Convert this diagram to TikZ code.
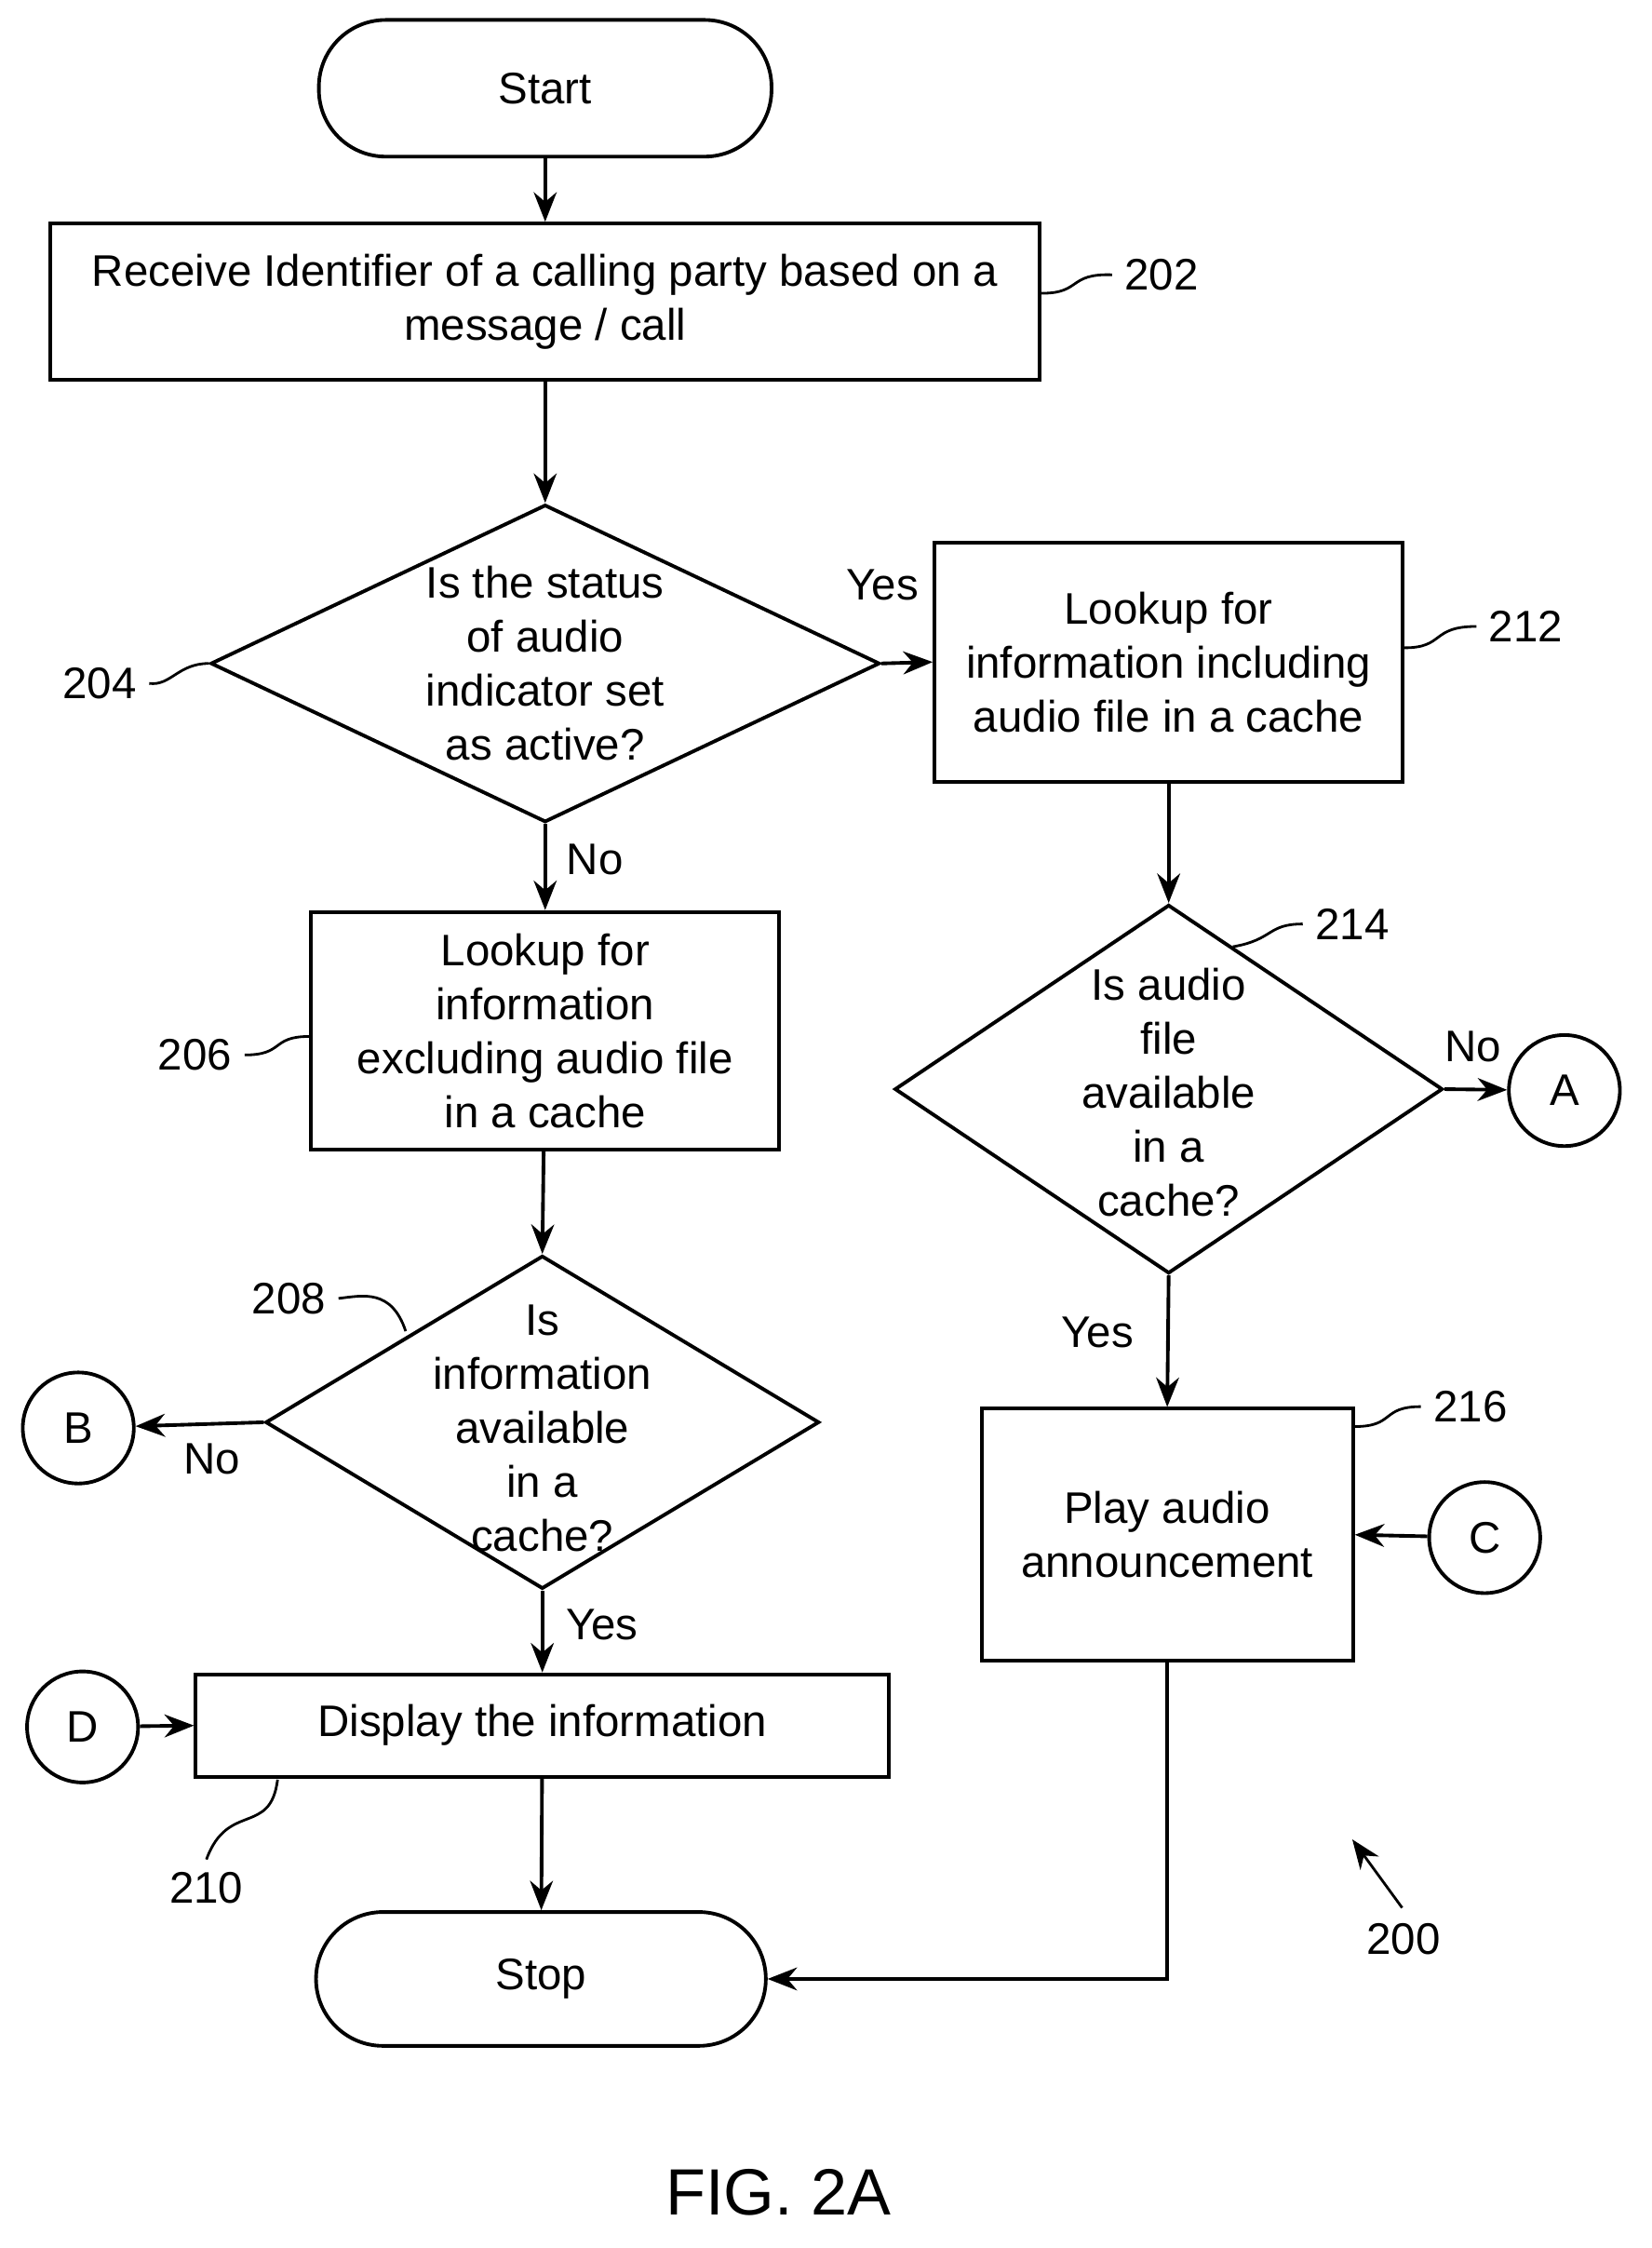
\documentclass[tikz,border=0pt]{standalone}
\usepackage{fontspec}
\setmainfont{Liberation Sans}
\usetikzlibrary{shapes.geometric,arrows.meta}
\newcommand\U{0.01529cm}
\begin{document}
\begin{tikzpicture}[x=\U, y=-\U, line width=1.1pt,
	every node/.style={font=\fontsize{13.5}{16.5}\selectfont},
	box/.style={draw, rectangle, align=center, inner sep=0pt},
	term/.style={draw, rounded rectangle, minimum width={318*\U}, minimum height={95*\U}},
	dec/.style={draw, diamond, inner sep=0pt},
	conn/.style={draw, circle, minimum size={78*\U}, inner sep=0pt},
	arrow/.style={draw, -{Stealth[length=9pt,width=7pt]}},
	tag/.style={draw, line width=0.8pt}]
	\useasboundingbox (0,0) rectangle (1160,1579);

	% main column
	\node [draw, rectangle, rounded corners={47*\U}, minimum width={318*\U}, minimum height={96*\U}] (start) at (383,62) {Start};
	\node [box, minimum width={695*\U}, minimum height={110*\U}] (n202) at (383,212) {Receive Identifier of a calling party based on a\\message / call};
	\node [dec, minimum width={470*\U}, minimum height={223*\U}] (n204) at (383,466) {};
	\node [align=center] at (n204) {Is the status\\of audio\\indicator set\\as active?};
	\node [box, minimum width={329*\U}, minimum height={167*\U}] (n206) at (383,724) {Lookup for\\information\\excluding audio file\\in a cache};
	\node [dec, minimum width={389*\U}, minimum height={234*\U}] (n208) at (381,999) {};
	\node [align=center] at (381,1003) {Is\\information\\available\\in a\\cache?};
	\node [box, minimum width={487*\U}, minimum height={72*\U}] (n210) at (381,1212) {Display the information};
	\node [draw, rectangle, rounded corners={47*\U}, minimum width={316*\U}, minimum height={94*\U}] (stop) at (380,1390) {Stop};

	% right column
	\node [box, minimum width={329*\U}, minimum height={168*\U}] (n212) at (821,465) {Lookup for\\information including\\audio file in a cache};
	\node [dec, minimum width={385*\U}, minimum height={259*\U}] (n214) at (821,765) {};
	\node [align=center] at (821,767) {Is audio\\file\\available\\in a\\cache?};
	\node [box, minimum width={261*\U}, minimum height={177*\U}] (n216) at (820,1078) {Play audio\\announcement};

	% connectors
	\node [conn] (A) at (1099,766) {A};
	\node [conn] (B) at (55,1003) {B};
	\node [conn] (C) at (1043,1080) {C};
	\node [conn] (D) at (58,1213) {D};

	\path [arrow] (start) -- (n202);
	\path [arrow] (n202) -- (n204.north);
	\path [arrow] (n204.east) -- (n212.west);
	\path [arrow] (n204.south) -- (n206.north);
	\path [arrow] (n206) -- (n208.north);
	\path [arrow] (n208.south) -- (n210.north);
	\path [arrow] (n208.west) -- (B);
	\path [arrow] (n210) -- (stop);
	\path [arrow] (n212) -- (n214.north);
	\path [arrow] (n214.east) -- (A);
	\path [arrow] (n214.south) -- (n216.north);
	\path [arrow] (C) -- (n216.east);
	\path [arrow] (D) -- (n210.west);
	\path [arrow] (n216.south) |- (stop.east);

	% flow labels
	\node at (620,411) {Yes};
	\node at (418,604) {No};
	\node at (1035,735) {No};
	\node at (771,936) {Yes};
	\node at (149,1025) {No};
	\node at (423,1141) {Yes};

	% reference numerals
	\node (l202) at (816,193) {202};
	\node (l204) at (70,480) {204};
	\node (l212) at (1072,440) {212};
	\node (l214) at (950,649) {214};
	\node (l206) at (137,741) {206};
	\node (l208) at (203,912) {208};
	\node (l216) at (1033,988) {216};
	\node (l210) at (145,1326) {210};
	\node (l200) at (986,1362) {200};
	\path [tag] (n202.east |- 0,206) .. controls (760,206) and (750,192) .. (l202.west);
	\path [tag] (n204.west) .. controls (125,466) and (120,482) .. (l204.east);
	\path [tag] (n212.east |- 0,455) .. controls (1015,455) and (1005,440) .. (l212.west);
	\path [tag] (866,665) .. controls (895,660) and (890,649) .. (l214.west);
	\path [tag] (n206.west |- 0,728) .. controls (190,728) and (200,741) .. (l206.east);
	\path [tag] (285,935) .. controls (275,905) and (255,910) .. (l208.east);
	\path [tag] (n216.east |- 0,1002) .. controls (980,1002) and (970,988) .. (l216.west);
	\path [tag] (195,1250) .. controls (190,1290) and (160,1265) .. (l210.north);
	\coordinate (p200) at (985,1340);
	\path [arrow, line width=0.8pt] (p200) -- (950,1292);

	\node [font=\fontsize{20}{24}\selectfont] (fig) at (547,1540) {FIG. 2A};
\end{tikzpicture}
\end{document}
